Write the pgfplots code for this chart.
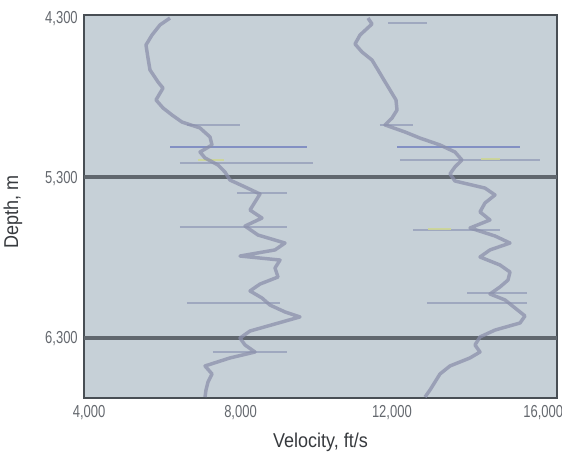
\documentclass[border=0pt]{standalone}
\usepackage{fontspec}
\setmainfont{Liberation Sans}
\newfontfamily\condfont{Liberation Sans}[FakeStretch=0.75]
\newfontfamily\labfont{Liberation Sans}[FakeStretch=0.9]
\usepackage{pgfplots}
\pgfplotsset{compat=1.18}
\definecolor{bg}{RGB}{198,208,215}
\definecolor{frame}{RGB}{72,78,84}
\definecolor{band}{RGB}{96,103,110}
\definecolor{logc}{RGB}{140,144,172}
\definecolor{spk}{RGB}{150,158,185}
\definecolor{spkblue}{RGB}{115,128,190}
\definecolor{spkyel}{RGB}{205,214,150}
\definecolor{ticktxt}{RGB}{100,104,110}
\definecolor{labtxt}{RGB}{55,58,62}
\begin{document}
\begin{tikzpicture}
\useasboundingbox (-63pt,-44.25pt) rectangle (358.5pt,298.5pt);
\begin{axis}[
  at={(0,0)}, anchor=south west,
  scale only axis, width=354.75pt, height=287.25pt,
  xmin=3800, xmax=16300,
  ymin=4280, ymax=6670, y dir=reverse,
  xtick={4000,8000,12000,16000},
  ytick={4300,5300,6300},
  scaled ticks=false,
  major tick length=0pt,
  axis background/.style={fill=bg},
  axis line style={draw=frame, line width=1.5pt},
  /pgf/number format/.cd, 1000 sep={,}, assume math mode=true,
  /pgfplots/.cd,
  ticklabel style={font=\condfont\fontsize{13}{14}\selectfont, text=ticktxt},
  xticklabel style={anchor=north, inner sep=0pt, yshift=-5pt, xshift=-1.8pt},
  yticklabel style={anchor=east, inner sep=0pt, xshift=-4.5pt},
  xlabel={Velocity, ft/s},
  ylabel={Depth, m},
  label style={font=\labfont\fontsize{15}{16}\selectfont, text=labtxt},
  xlabel style={at={([yshift=-26pt]axis description cs:0.5,0)}, anchor=north, inner sep=0pt},
  ylabel style={at={([xshift=-46pt]axis description cs:0,0.485)}, anchor=south, inner sep=0pt, rotate=0},
  clip=true,
]
% dark horizontal bands
\addplot[band, line width=3.2pt] coordinates {(3800,5290) (16300,5290)};
\addplot[band, line width=3.2pt] coordinates {(3800,6295) (16300,6295)};

% spikes, left log
\addplot[spk, line width=1.6pt, opacity=0.8] coordinates {(6522,4966) (7923,4966)};
\addplot[spkblue, line width=1.6pt, opacity=0.8] coordinates {(6073,5104) (9693,5104)};
\addplot[spk, line width=1.6pt, opacity=0.8] coordinates {(6337,5204) (9852,5204)};
\addplot[spkyel, line width=1.6pt, opacity=0.9] coordinates {(6800,5185) (7500,5185)};
\addplot[spk, line width=1.6pt, opacity=0.8] coordinates {(7843,5391) (9165,5391)};
\addplot[spk, line width=1.6pt, opacity=0.8] coordinates {(6337,5603) (9165,5603)};
\addplot[spk, line width=1.6pt, opacity=0.8] coordinates {(6522,6077) (8980,6077)};
\addplot[spk, line width=1.6pt, opacity=0.8] coordinates {(7209,6383) (9165,6383)};

% spikes, right log
\addplot[spk, line width=1.6pt, opacity=0.8] coordinates {(11834,4330) (12864,4330)};
\addplot[spk, line width=1.6pt, opacity=0.8] coordinates {(11622,4966) (12494,4966)};
\addplot[spkblue, line width=1.6pt, opacity=0.8] coordinates {(12072,5104) (15322,5104)};
\addplot[spk, line width=1.6pt, opacity=0.8] coordinates {(12151,5185) (15851,5185)};
\addplot[spkyel, line width=1.8pt, opacity=0.9] coordinates {(14300,5180) (14800,5180)};
\addplot[spk, line width=1.6pt, opacity=0.8] coordinates {(12494,5622) (14794,5622)};
\addplot[spkyel, line width=1.8pt, opacity=0.9] coordinates {(12900,5615) (13500,5615)};
\addplot[spk, line width=1.6pt, opacity=0.8] coordinates {(13922,6015) (15507,6015)};
\addplot[spk, line width=1.6pt, opacity=0.8] coordinates {(12864,6077) (15507,6077)};

% left log
\addplot[logc, line width=2.6pt, opacity=0.75, line join=round] coordinates {
(6073,4299) (5808,4342) (5597,4405) (5438,4467) (5491,4548) (5544,4623)
(5756,4698) (5888,4736) (5703,4810) (5888,4860) (6126,4904) (6390,4948)
(6866,4985) (7130,5041) (7183,5091) (6866,5135) (6998,5172) (7341,5216)
(7526,5260) (7658,5310) (8055,5353) (8451,5397) (8319,5447) (8187,5497)
(8504,5547) (8055,5597) (8398,5653) (9112,5703) (8848,5746) (7923,5784)
(8980,5809) (8848,5859) (8927,5915) (8451,5959) (8187,6002) (8504,6046)
(8715,6090) (9112,6133) (9508,6164) (8848,6208) (8187,6252) (7923,6296)
(8055,6339) (8319,6383) (7658,6420) (6998,6470) (7183,6520) (7077,6570)
(7024,6620) (6998,6664)};

% right log
\addplot[logc, line width=2.6pt, opacity=0.75, line join=round] coordinates {
(11305,4299) (11411,4336) (11094,4405) (10962,4461) (11147,4511) (11411,4561)
(11570,4623) (11728,4686) (11887,4748) (12045,4810) (12072,4873) (11940,4923)
(11755,4966) (12283,5010) (12679,5048) (13208,5091) (13604,5135) (13789,5185)
(13604,5228) (13472,5272) (13604,5316) (14397,5360) (14662,5403) (14397,5453)
(14265,5509) (14529,5559) (14001,5609) (14662,5659) (15058,5703) (14529,5746)
(14265,5790) (14794,5840) (15058,5884) (15005,5934) (14794,5977) (14529,6021)
(14926,6058) (15190,6108) (15454,6158) (15322,6202) (14662,6246) (14265,6289)
(14133,6339) (14265,6383) (14001,6420) (13472,6470) (13208,6520) (13076,6570)
(12944,6620) (12812,6664)};
\end{axis}
\end{tikzpicture}
\end{document}
